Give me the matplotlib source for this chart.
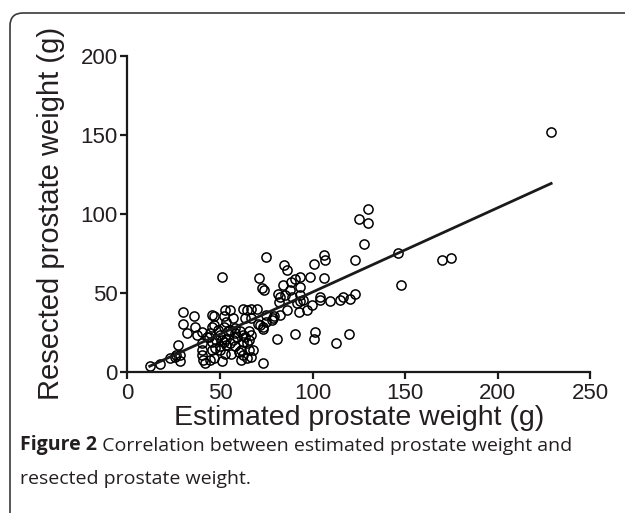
import numpy as np
import matplotlib
matplotlib.use("Agg")
from matplotlib import pyplot as plt
from matplotlib.patches import FancyBboxPatch

# estimated vs resected prostate weight (g)
estimated = [229, 170, 175, 148, 146, 130, 125, 130, 128, 123,
             106, 107, 101, 75, 84.5, 86, 98.5, 106, 93, 90.5,
             88.5, 84, 93, 81.5, 82.5, 89, 91.5, 93, 95, 92.5,
             97, 99.5, 104, 104, 109.5, 115, 116.5, 120, 123, 86,
             82.5, 79, 75, 73.5, 81, 90.5, 101.5, 101, 112.5, 119.5,
             73, 51, 71, 72.5, 74, 30, 36, 30, 32, 46.5,
             47, 52.5, 55.5, 52, 57, 62.5, 64.5, 67, 70, 71.5,
             73.5, 78.5, 27.5, 12, 17.5, 23, 25.5, 28.5, 28.5, 37.5,
             40, 43, 40, 40, 40, 41, 42, 46.5, 51, 60,
             62.5, 61.5, 64.5, 68, 63.5, 65.5, 67, 55.5, 58, 61,
             62.5, 48, 50, 47.5, 50, 52, 53.5, 55.5, 57, 58,
             59, 82, 45.5, 53.5, 63.5, 67, 70.5, 75, 78, 45.5,
             49, 52, 54.5, 58, 65.5, 44, 45.5, 51, 53.5, 62.5,
             64.5, 61.5, 65.5, 45.5, 50, 52.5, 56, 44.5, 67, 36.5,
             44.5, 26, 88, 85, 93]
resected = [152, 71, 72, 55, 75, 103, 96.5, 94, 81, 71,
            74, 71, 68, 72.5, 67.5, 64.5, 60, 59.5, 60, 58.5,
            57, 55, 53.5, 49.5, 47.5, 47.5, 43.5, 44.5, 45.5, 38,
            39, 42, 47.5, 45.5, 45, 45.5, 47.5, 46, 49.5, 39,
            36, 35, 36, 28.5, 21, 24, 25, 21, 18, 24,
            5.5, 60, 59.5, 53, 51.5, 37.5, 35.5, 30, 24.5, 35,
            29.5, 39, 39, 35, 34, 39.5, 39, 40, 39.5, 29.5,
            27, 34, 17, 3.5, 5, 8.5, 9.5, 6.5, 10.5, 23,
            25, 22, 18, 13.5, 10.5, 7.5, 5.5, 8.5, 6.5, 12.5,
            10.5, 7.5, 8.5, 13.5, 22, 20, 23, 26.5, 24.5, 25.5,
            23, 20, 23, 15, 16, 19, 21, 18, 20, 16,
            22, 44, 36, 31.5, 34, 34, 30.5, 31.5, 32.5, 28.5,
            26.5, 28.5, 25.5, 27.5, 25.5, 22, 19, 20, 17, 19,
            18, 13.5, 13.5, 13.5, 13.5, 11.5, 11.5, 7.5, 9.5, 28,
            24.5, 10.5, 51.5, 48.5, 48.5]

# regression line
line_slope = 0.533
line_intercept = -2.9

x_ticks = [0, 50, 100, 150, 200, 250]
y_ticks = [0, 50, 100, 150, 200]

TXT = "#231f20"
plt.rcParams['font.family'] = ['Liberation Sans', 'DejaVu Sans']

fig = plt.figure(figsize=(6.25, 5.13), dpi=100)

# rounded frame around the figure, runs off the right and bottom edges
frame = FancyBboxPatch((0.10, -0.5), 7.0, 5.5, boxstyle="round,pad=0,rounding_size=0.13",
                       transform=fig.dpi_scale_trans, facecolor="none",
                       edgecolor="#3a3a3a", linewidth=1.2, zorder=-5)
fig.patches.append(frame)

ax = fig.add_axes([0.204, 0.2754, 0.740, 0.616])
ax.patch.set_alpha(0)

ax.plot(estimated, resected, 'o', markersize=6.6, markerfacecolor='none',
        markeredgecolor='black', markeredgewidth=1.1, clip_on=False)

xs = np.array([min(estimated), max(estimated)])
ax.plot(xs, line_slope * xs + line_intercept, color='#1a1a1a', linewidth=2.0)

ax.set_xlim(0, 250)
ax.set_ylim(0, 200)
ax.set_xticks(x_ticks)
ax.set_yticks(y_ticks)
for s in ['top', 'right']:
    ax.spines[s].set_visible(False)
for s in ['left', 'bottom']:
    ax.spines[s].set_linewidth(1.6)
    ax.spines[s].set_color('#1a1a1a')
ax.tick_params(direction='out', length=5, width=1.6, labelsize=16, colors='#1a1a1a',
               labelcolor=TXT)
ax.tick_params(axis='x', pad=3)
ax.tick_params(axis='y', pad=2)

ax.set_xlabel("Estimated prostate weight (g)", fontsize=20.5, color=TXT, labelpad=1)
ax.set_ylabel("Resected prostate weight (g)", fontsize=21, color=TXT, labelpad=11)

# caption: bold label followed by normal text
cap_font = ['Open Sans', 'DejaVu Sans']
t1 = fig.text(0.032, 0.122, "Figure 2", fontsize=14, fontweight='bold',
              family=cap_font, color=TXT)
ax.annotate(" Correlation between estimated prostate weight and", xy=(1, 0),
            xycoords=t1, va='bottom', ha='left', fontsize=14, family=cap_font,
            color=TXT, annotation_clip=False)
fig.text(0.032, 0.056, "resected prostate weight.", fontsize=14, family=cap_font,
         color=TXT)

fig.savefig("out.png", dpi=100)
